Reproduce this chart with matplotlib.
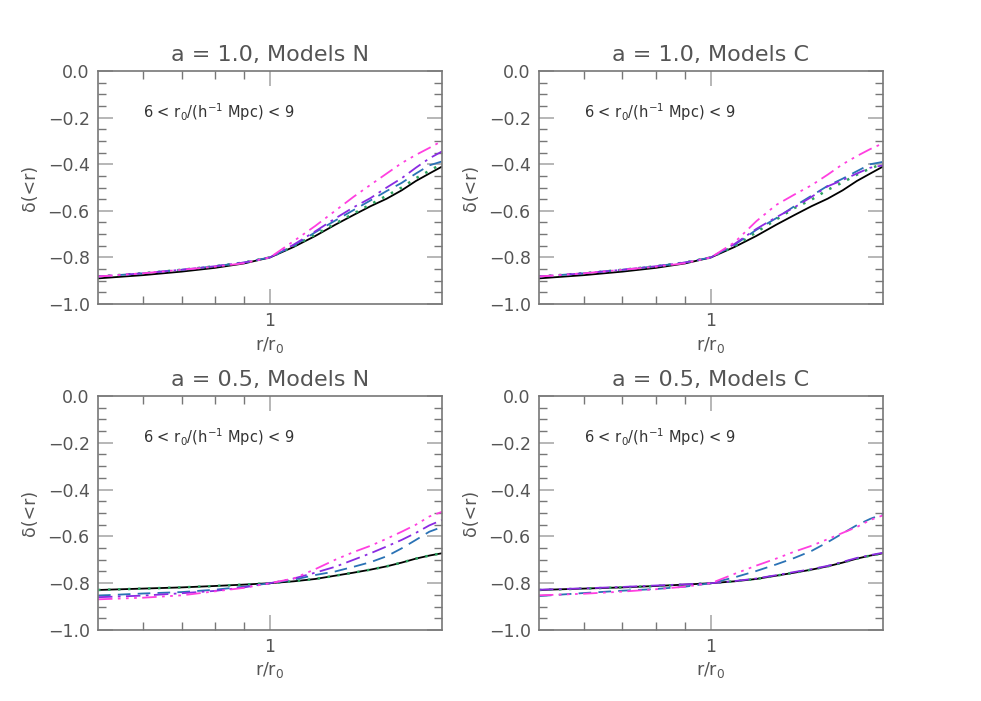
import matplotlib
matplotlib.use("Agg")
import matplotlib.pyplot as plt
from matplotlib.ticker import FixedLocator, NullFormatter, MultipleLocator, FuncFormatter

# r/r0 sample points shared by all curves
R = [0.5, 0.6, 0.7, 0.8, 0.9, 1.0, 1.1, 1.2, 1.3, 1.4, 1.5, 1.6, 1.7, 1.8, 1.9, 2.0]

# a = 1.0 reference (black) curve, same in both top panels
black_a10 = [-0.890, -0.876, -0.861, -0.845, -0.826, -0.800, -0.755, -0.708, -0.660,
             -0.618, -0.580, -0.548, -0.512, -0.472, -0.440, -0.410]
left_a10 = [-0.882, -0.868, -0.853, -0.838, -0.822, -0.800]

# a = 1.0, Models N
green_tl = left_a10 + [-0.752, -0.702, -0.655, -0.612, -0.572, -0.535, -0.500, -0.460, -0.428, -0.398]
blue_tl = left_a10 + [-0.750, -0.692, -0.642, -0.597, -0.555, -0.515, -0.480, -0.440, -0.405, -0.388]
purple_tl = left_a10 + [-0.745, -0.688, -0.633, -0.585, -0.545, -0.500, -0.460, -0.415, -0.375, -0.345]
magenta_tl = [-0.882, -0.868, -0.853, -0.840, -0.825, -0.800,
              -0.730, -0.665, -0.600, -0.540, -0.488, -0.440, -0.395, -0.360, -0.330, -0.300]

# a = 1.0, Models C
green_tr = left_a10 + [-0.752, -0.692, -0.638, -0.588, -0.552, -0.510, -0.478, -0.445, -0.418, -0.398]
blue_tr = left_a10 + [-0.746, -0.682, -0.632, -0.580, -0.535, -0.493, -0.462, -0.430, -0.400, -0.390]
purple_tr = left_a10 + [-0.742, -0.678, -0.628, -0.585, -0.540, -0.495, -0.468, -0.440, -0.415, -0.405]
magenta_tr = [-0.882, -0.868, -0.853, -0.840, -0.825, -0.800,
              -0.735, -0.645, -0.575, -0.530, -0.490, -0.445, -0.400, -0.365, -0.335, -0.310]

# a = 0.5 reference (black) curve
black_a05 = [-0.829, -0.823, -0.818, -0.812, -0.806, -0.800, -0.792, -0.782, -0.768,
             -0.755, -0.742, -0.728, -0.712, -0.695, -0.682, -0.672]

# a = 0.5, Models N
green_bl = black_a05
blue_bl = [-0.853, -0.844, -0.838, -0.828, -0.815, -0.800, -0.785, -0.765, -0.750,
           -0.730, -0.710, -0.685, -0.651, -0.615, -0.580, -0.560]
purple_bl = [-0.860, -0.853, -0.843, -0.833, -0.818, -0.800, -0.780, -0.755, -0.730,
             -0.700, -0.672, -0.643, -0.615, -0.585, -0.553, -0.530]
magenta_bl = [-0.869, -0.862, -0.852, -0.835, -0.820, -0.800, -0.780, -0.740, -0.700,
              -0.667, -0.640, -0.610, -0.580, -0.550, -0.515, -0.495]

# a = 0.5, Models C
green_br = black_a05
blue_br = [-0.855, -0.842, -0.832, -0.825, -0.815, -0.800, -0.775, -0.748, -0.720,
           -0.692, -0.662, -0.625, -0.587, -0.552, -0.525, -0.505]
purple_br = [-0.828, -0.822, -0.816, -0.810, -0.805, -0.800, -0.791, -0.780, -0.766,
             -0.752, -0.740, -0.726, -0.709, -0.692, -0.680, -0.670]
magenta_br = [-0.852, -0.845, -0.836, -0.826, -0.815, -0.800, -0.760, -0.725, -0.695,
              -0.665, -0.640, -0.612, -0.585, -0.560, -0.530, -0.510]

titles = ["a = 1.0, Models N", "a = 1.0, Models C", "a = 0.5, Models N", "a = 0.5, Models C"]
panels = [
    [black_a10, green_tl, blue_tl, purple_tl, magenta_tl],
    [black_a10, green_tr, blue_tr, purple_tr, magenta_tr],
    [black_a05, green_bl, blue_bl, purple_bl, magenta_bl],
    [black_a05, green_br, blue_br, purple_br, magenta_br],
]

colors = ["black", "#2ca25f", "#2a72b5", "#8a2be2", "#ff3fe0"]
styles = ["-", (0, (1, 3)), (0, (7, 4)), (0, (8, 3, 1.5, 3)),
          (0, (8, 3, 1.5, 3, 1.5, 3, 1.5, 3))]
widths = [1.3, 1.8, 1.3, 1.3, 1.3]

txt = "#555555"
frame = "#777777"


def ylab(v, pos):
    s = "%.1f" % abs(v)
    if v < -1e-9:
        s = "\u2212" + s
    return s


fig = plt.figure(figsize=(9.81, 7.01), dpi=100)
boxes = [
    [0.0999, 0.5663, 0.3507, 0.3324],
    [0.5494, 0.5663, 0.3507, 0.3324],
    [0.0999, 0.1013, 0.3507, 0.3338],
    [0.5494, 0.1013, 0.3507, 0.3338],
]

for box, title, data in zip(boxes, titles, panels):
    ax = fig.add_axes(box)
    for i in range(5):
        ax.plot(R, data[i], color=colors[i], linestyle=styles[i], linewidth=widths[i])
    ax.set_xscale("log")
    ax.set_xlim(0.5, 2.0)
    ax.set_ylim(-1.0, 0.0)
    ax.xaxis.set_major_locator(FixedLocator([1.0]))
    ax.set_xticklabels(["1"])
    ax.xaxis.set_minor_locator(FixedLocator([0.6, 0.7, 0.8, 0.9]))
    ax.xaxis.set_minor_formatter(NullFormatter())
    ax.yaxis.set_major_locator(MultipleLocator(0.2))
    ax.yaxis.set_minor_locator(MultipleLocator(0.05))
    ax.yaxis.set_major_formatter(FuncFormatter(ylab))
    ax.tick_params(which="both", direction="in", top=True, right=True,
                   labelsize=12.5, labelcolor=txt)
    ax.tick_params(which="major", length=11, width=1.2, color="#aaaaaa", pad=6)
    ax.tick_params(which="minor", length=6, width=1.0, color=frame)
    for s in ax.spines.values():
        s.set_color(frame)
        s.set_linewidth(1.2)
    ax.set_title(title, fontsize=16, color=txt, pad=7)
    ax.set_xlabel(r"r/r$_\mathregular{0}$", fontsize=12.5, color=txt, labelpad=3)
    ax.set_ylabel("\u03b4(<r)", fontsize=12.5, color=txt, labelpad=6)
    ax.text(0.13, 0.825, r"6 < r$_\mathregular{0}$/(h$^\mathregular{-1}$ Mpc) < 9",
            transform=ax.transAxes, fontsize=10.5, color="#333333", va="center")

fig.savefig("out.png", dpi=100)
